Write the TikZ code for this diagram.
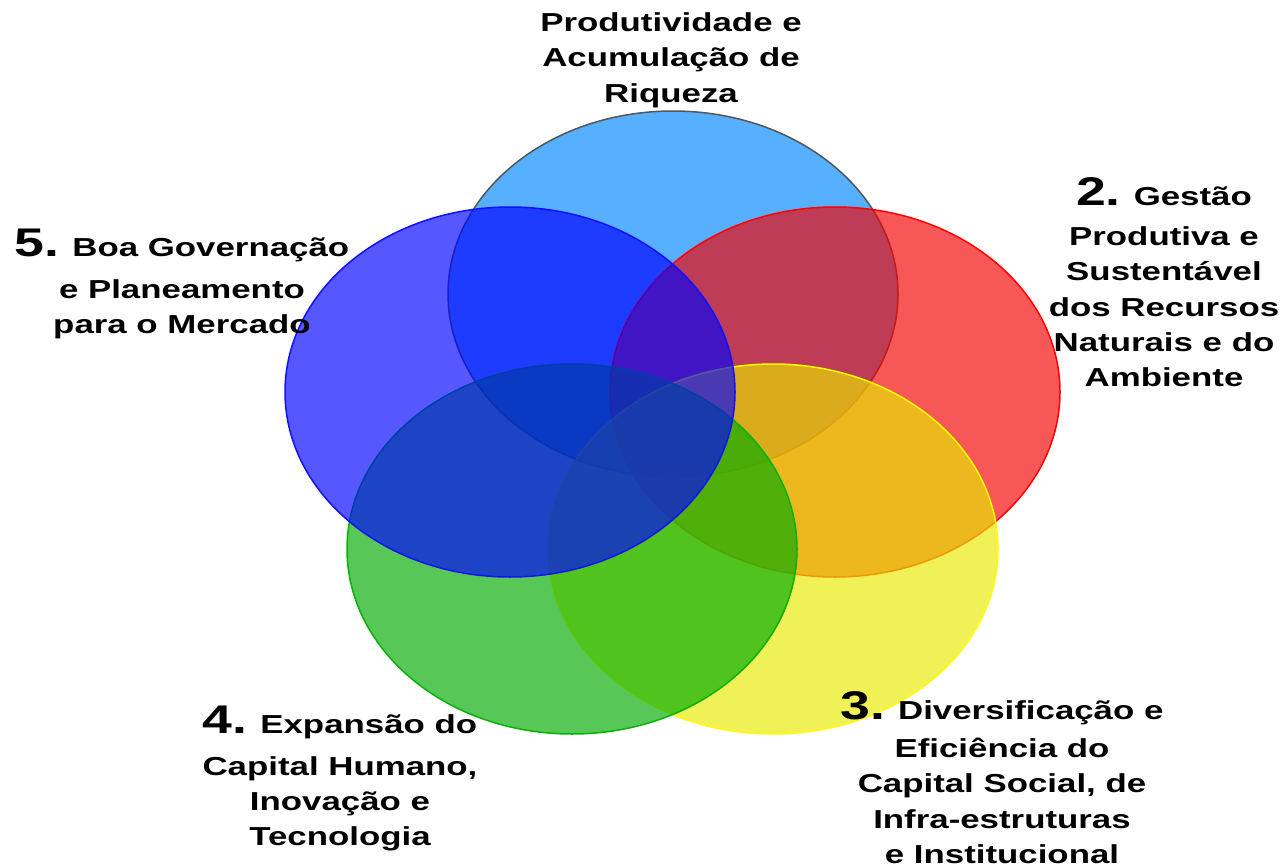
\documentclass[tikz,border=0pt]{standalone}
\usepackage{fontspec}
\setmainfont{Liberation Sans}[FakeStretch=1.34]
\usetikzlibrary{shapes.geometric}
\definecolor{cTop}{RGB}{0,135,255}
\definecolor{cRed}{RGB}{245,0,0}
\definecolor{cYel}{RGB}{232,232,0}
\definecolor{cGrn}{RGB}{0,172,0}
\definecolor{cPur}{RGB}{0,0,255}
\definecolor{lTop}{RGB}{85,85,85}
\definecolor{lRed}{RGB}{255,0,0}
\definecolor{lYel}{RGB}{255,255,0}
\definecolor{lGrn}{RGB}{0,180,0}
\definecolor{lPur}{RGB}{16,16,255}
\newcommand\lblnum[1]{{\fontsize{40}{40}\selectfont #1}}
\tikzset{
  venn/.style={ellipse, minimum width=450pt, minimum height=370pt, inner sep=0pt,
    line width=1.5pt, fill opacity=0.66},
  lbl/.style={align=center, font=\bfseries\fontsize{26}{35.3}\selectfont,
    inner sep=0pt, anchor=north},
}
\begin{document}
\begin{tikzpicture}[x=1pt,y=-1pt]
\useasboundingbox (0,0) rectangle (1287,867);
\node[venn, draw=lTop, fill=cTop, minimum height=366pt] (e1) at (673,294) {};
\node[venn, draw=lRed, fill=cRed] (e2) at (835,392) {};
\node[venn, draw=lYel, fill=cYel] (e3) at (773,549) {};
\node[venn, draw=lGrn, fill=cGrn] (e4) at (572,549) {};
\node[venn, draw=lPur, fill=cPur] (e5) at (510,392) {};

\node[lbl] (t1) at (671,12.5) {Produtividade e\\Acumulação de\\Riqueza};
\node[lbl] (t2) at (1164,177) {\lblnum{2.} Gestão\\[5pt]Produtiva e\\Sustentável\\dos Recursos\\Naturais e do\\Ambiente};
\node[lbl] (t3) at (1002,691) {\lblnum{3.} Diversificação e\\[3pt]Eficiência do\\Capital Social, de\\Infra-estruturas\\e Institucional};
\node[lbl] (t4) at (340,706) {\lblnum{4.} Expansão do\\[6pt]Capital Humano,\\Inovação e\\Tecnologia};
\node[lbl] (t5) at (182,229) {\lblnum{5.} Boa Governação\\[6pt]e Planeamento\\para o Mercado};
\end{tikzpicture}
\end{document}
